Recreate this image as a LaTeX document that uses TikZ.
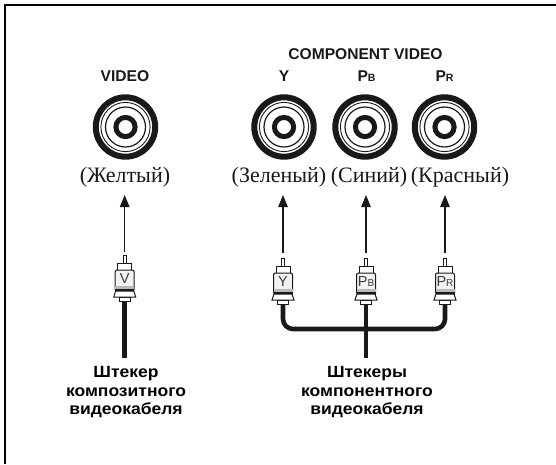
\documentclass[tikz,border=0pt]{standalone}
\usepackage{fontspec}
\setmainfont{Liberation Serif}
\newfontfamily\arialf{Liberation Sans}
\newfontfamily\widef[FakeStretch=1.08]{Liberation Sans}
\usetikzlibrary{arrows.meta}
\definecolor{ink}{gray}{0.1}
\tikzset{
  x=1pt,y=-1pt,
  frameline/.style={line width=2pt,black},
  head/.style={font=\arialf\bfseries\fontsize{15.6}{17}\selectfont,text=ink,inner sep=0pt},
  colour/.style={font=\fontsize{22}{24}\selectfont,text=ink,inner sep=0pt},
  caption/.style={font=\widef\bfseries\fontsize{16.2}{18.5}\selectfont,text=black,inner sep=0pt,align=center},
  ringline/.style={draw=ink,fill=none},
  cable/.style={line width=4.6pt,draw=ink},
  upa/.style={line width=1.4pt,draw=ink,-{Triangle[length=12pt,width=9.5pt]}},
  pics/jack/.style={code={
    \node[circle,draw=ink,line width=6pt,minimum size=59.4pt,inner sep=0pt,fill=white] (-outer) at (0,0) {};
    \draw[ringline,line width=.9pt] (0,0) circle (24.6);
    \draw[ringline,line width=1.2pt] (0,0) circle (20);
    \draw[ringline,line width=5pt] (0,0) circle (9.6);
  }},
  pics/plug/.style={code={
    \node[draw=ink,line width=.9pt,fill=white,minimum width=3pt,minimum height=8pt,inner sep=0pt,anchor=north] (-tip) at (0,0) {};
    \draw[ink,line width=1pt,fill=white] (-7,8) rectangle (7,15);
    \draw[ink,line width=1pt,fill=gray!10,rounded corners=2pt] (-9.5,15) rectangle (9.5,36);
    \fill[gray!55] (-9.5,31) rectangle (9.5,34);
    \fill[ink] (-9.5,34) rectangle (9.5,36.5);
    \draw[ink,line width=1pt,fill=white] (-9,36) -- (9,36) -- (11,42) -- (-11,42) -- cycle;
    \node[draw=ink,line width=1pt,fill=white,minimum width=11pt,minimum height=3.5pt,inner sep=0pt,anchor=north] (-neck) at (0,42) {};
    \node[font=\arialf\fontsize{14.5}{15}\selectfont,text=ink!85,inner sep=0pt] (-txt) at (0,23.5) {#1};
  }},
}
\newcommand{\subP}[1]{P{\fontsize{10}{10}\selectfont #1}}
\newcommand{\subPb}[1]{P{\fontsize{10.5}{10}\selectfont #1}}
\begin{document}
\begin{tikzpicture}
\useasboundingbox (0,0) rectangle (556,464);
\fill[white] (0,0) rectangle (556,464);
\coordinate (fa) at (556,5);
\coordinate (fb) at (5,5);
\coordinate (fc) at (5,464);
\draw[frameline] (fa) -- (fb) -- (fc);

\node[head] (lv) at (125,76) {VIDEO};
\node[head] (lc) at (365.5,54.5) {COMPONENT VIDEO};
\node[head] (ly) at (284,76) {Y};
\node[head] (lb) at (366.5,76) {\subPb{B}};
\node[head] (lr) at (444.5,76) {\subPb{R}};

\pic (j1) at (125.5,127) {jack};
\pic (j2) at (284,127) {jack};
\pic (j3) at (365,127) {jack};
\pic (j4) at (444.5,127) {jack};

\node[colour] (c1) at (125,177.5) {(Желтый)};
\node[colour] (c2) at (279,177.5) {(Зеленый)};
\node[colour] (c3) at (369,177.5) {(Синий)};
\node[colour] (c4) at (460,177.5) {(Красный)};

\pic (p1) at (124.7,255) {plug={V}};
\pic (p2) at (283,258) {plug={Y}};
\pic (p3) at (366,258) {plug={\subP{B}}};
\pic (p4) at (445,258) {plug={\subP{R}}};

\coordinate (a1) at (124.7,195);
\coordinate (a2) at (283,195);
\coordinate (a3) at (366,195);
\coordinate (a4) at (445,195);
\coordinate (s1) at (124.7,252);
\coordinate (s2) at (283,253);
\coordinate (s3) at (366,253);
\coordinate (s4) at (445,253);
\foreach \i in {1,2,3,4} \draw[upa] (s\i) -- (a\i);

\coordinate (e1) at (124.7,358);
\coordinate (e3) at (366,358);
\coordinate (bus) at (366,329);
\draw[cable,line width=5pt] (p1-neck.south) -- (e1);
\draw[cable] (p3-neck.south) -- (e3);
\draw[cable,rounded corners=10pt] (p2-neck.south) |- (bus) -| (p4-neck.south);

\node[caption] (t1) at (126,392.5) {Штекер\\композитного\\видеокабеля};
\node[caption] (t2) at (367,392.5) {Штекеры\\компонентного\\видеокабеля};
\end{tikzpicture}
\end{document}
